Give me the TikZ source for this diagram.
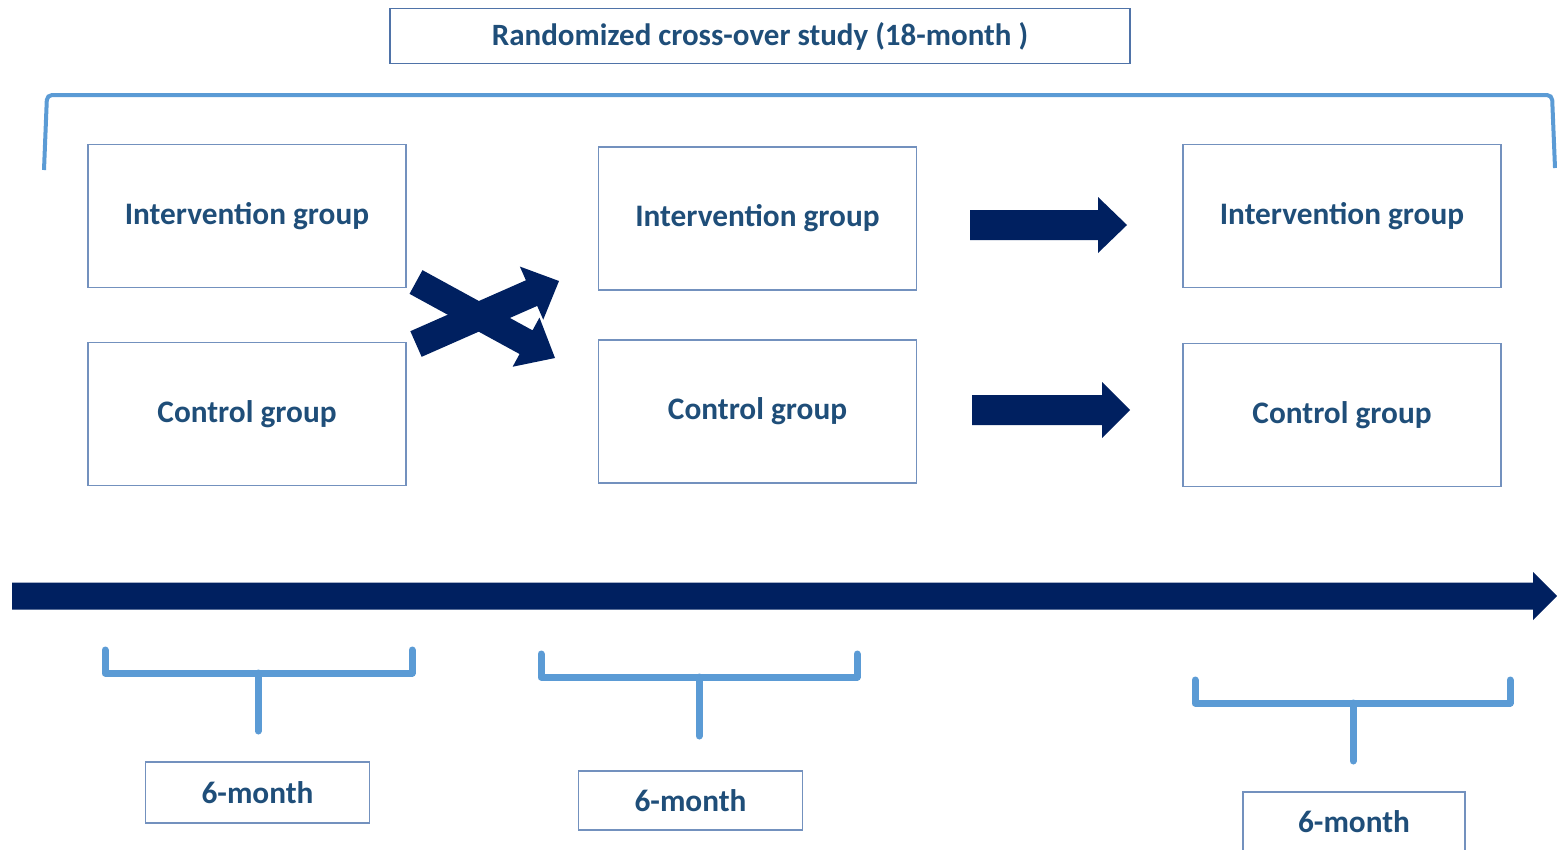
\documentclass[tikz,border=0pt]{standalone}
\usepackage{fontspec}
\setmainfont{Carlito}
\usetikzlibrary{calc}
\definecolor{navy}{HTML}{002060}
\definecolor{txtblue}{HTML}{1F4E79}
\definecolor{boxline}{HTML}{7391BE}
\definecolor{titleline}{HTML}{4F73A8}
\definecolor{brace}{HTML}{5B9BD5}
\newcommand\fatarr[5]{%
  \path ($(#2)!#5!(#1)$) coordinate (hb);
  \fill[navy] ($(#1)!#3!90:(#2)$) -- ($(hb)!#3!90:(#2)$) -- ($(hb)!#4!90:(#2)$) -- (#2)
    -- ($(hb)!#4!-90:(#2)$) -- ($(hb)!#3!-90:(#2)$) -- ($(#1)!#3!-90:(#2)$) -- cycle;}
\begin{document}
\begin{tikzpicture}[x=1pt,y=-1pt,
  grp/.style={draw=boxline,line width=1.6pt,text=txtblue,font=\fontsize{31.3}{36}\selectfont\bfseries,
    minimum width=318pt,minimum height=143pt,inner sep=0pt},
  mbox/.style={draw=boxline,line width=1.6pt,text=txtblue,font=\fontsize{31.3}{36}\selectfont\bfseries,
    minimum width=224pt,minimum height=60pt,inner sep=0pt},
  bracel/.style={draw=brace,line width=7pt,line cap=round,line join=round}]
\useasboundingbox (0,0) rectangle (1557,849);
% title
\node[draw=titleline,line width=1.6pt,text=txtblue,font=\fontsize{31}{36}\selectfont\bfseries,
  minimum width=740pt,minimum height=55pt,inner sep=0pt] (title) at (760,36) {Randomized cross-over study (18-month )};
% top bracket
\draw[draw=brace,line width=4pt,rounded corners=5pt] (44,170) -- (47,95) -- (1552,95) -- (1555,168);
% group boxes
\node[grp] (L1) at (247,216) {Intervention group};
\node[grp] (L2) at (247,414) {Control group};
\node[grp] (M1) at (757.5,218.5) {Intervention group};
\node[grp] (M2) at (757.5,411.5) {Control group};
\node[grp] (R1) at (1342,216) {Intervention group};
\node[grp] (R2) at (1342,415) {Control group};
% cross arrows
\coordinate (c1s) at (416,282);
\coordinate (c1e) at (555,358);
\coordinate (c2s) at (416,344);
\coordinate (c2e) at (559,281);
\fatarr{c2s}{c2e}{14pt}{29pt}{30pt}
\fatarr{c1s}{c1e}{13.5pt}{28pt}{33pt}
% straight arrows
\coordinate (a1s) at (970,225);
\coordinate (a1e) at (1127,225);
\coordinate (a2s) at (972,410);
\coordinate (a2e) at (1130,410);
\fatarr{a1s}{a1e}{15pt}{28pt}{29pt}
\fatarr{a2s}{a2e}{15pt}{28pt}{28pt}
% timeline
\coordinate (ts) at (12,596);
\coordinate (te) at (1557,596);
\fatarr{ts}{te}{13.5pt}{24pt}{24pt}
% bottom braces
\draw[bracel] (105,650) -- (105,673) -- (412,673) -- (412,650);
\draw[bracel] (258,673) -- (258,731);
\draw[bracel] (541,654) -- (541,677) -- (857,677) -- (857,654);
\draw[bracel] (699,677) -- (699,736);
\draw[bracel] (1195,680) -- (1195,703) -- (1510,703) -- (1510,680);
\draw[bracel] (1353,703) -- (1353,761);
% month boxes
\node[mbox,minimum height=61pt] (b1) at (257.5,792.5) {6-month};
\node[mbox,minimum height=59pt] (b2) at (690.5,800.5) {6-month};
\node[mbox,minimum width=222pt] (b3) at (1354,822) {6-month};
\end{tikzpicture}
\end{document}
